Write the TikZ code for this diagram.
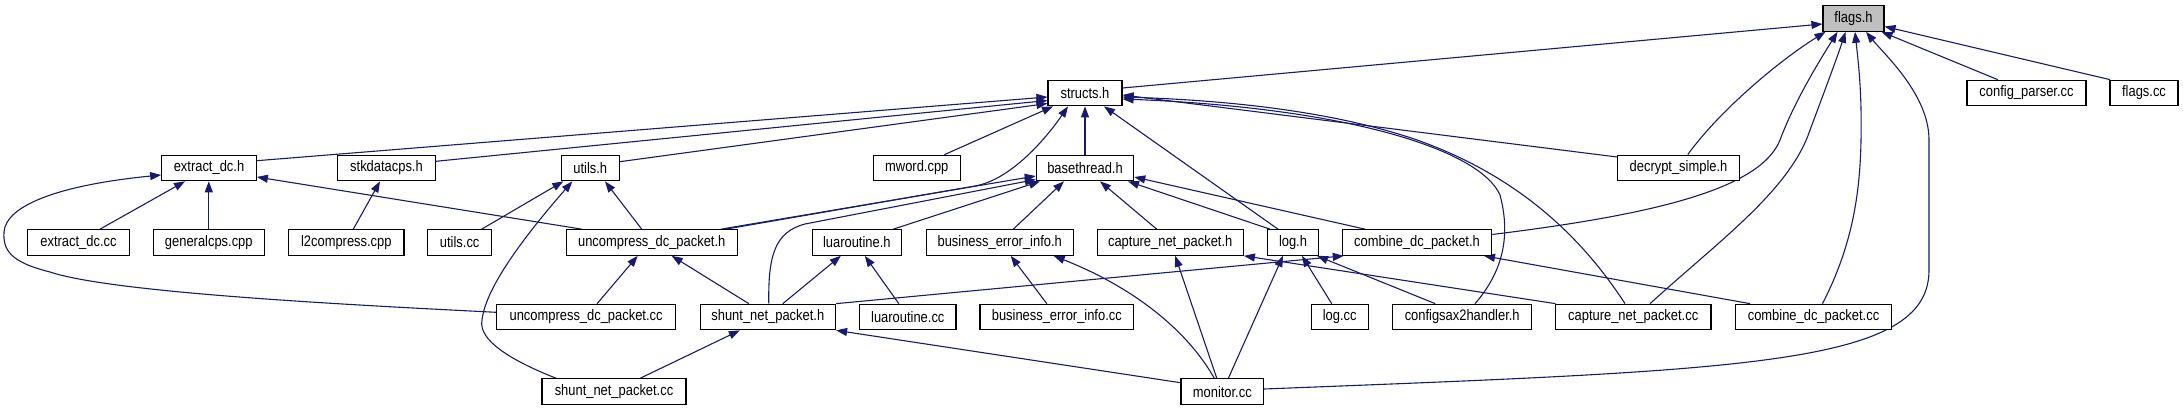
\documentclass[tikz,border=0pt]{standalone}
\usepackage{fontspec}
\setmainfont{Liberation Sans}
\newfontfamily\boxfont[FakeStretch=0.85]{Liberation Sans}
\usetikzlibrary{arrows.meta,calc}
\definecolor{edgeblue}{HTML}{191970}
\definecolor{nodegray}{HTML}{BFBFBF}
\pgfdeclarelayer{bg}
\pgfsetlayers{bg,main}
\begin{document}
\begin{tikzpicture}[x=1pt,y=-1pt,
  box/.style={draw=black,line width=1.1pt,fill=white,minimum height=25.6pt,inner sep=0pt,font=\boxfont\fontsize{15.2}{17}\selectfont},
  edge/.style={draw=edgeblue,line width=1.1pt,-{Triangle[length=11pt,width=8pt]}}]
\useasboundingbox (0,0) rectangle (2183,411);
% row 0
\node[box,fill=nodegray,minimum width=61pt] (flags) at (1853.5,18.5) {flags.h};
% row 1
\node[box,minimum width=74pt] (structs) at (1085,93) {structs.h};
\node[box,minimum width=119pt] (configparser) at (2026.5,93) {config\_parser.cc};
\node[box,minimum width=68pt] (flagscc) at (2144,93) {flags.cc};
% row 2
\node[box,minimum width=94.6pt] (extracth) at (209,168) {extract\_dc.h};
\node[box,minimum width=97.6pt] (stkdata) at (386.5,168) {stkdatacps.h};
\node[box,minimum width=58pt] (utilsh) at (590.3,168) {utils.h};
\node[box,minimum width=87pt] (mword) at (916.8,168) {mword.cpp};
\node[box,minimum width=97.4pt] (basethread) at (1085,168) {basethread.h};
\node[box,minimum width=121.6pt] (decrypt) at (1678.5,168) {decrypt\_simple.h};
% row 3
\node[box,minimum width=101.6pt] (extractcc) at (78.5,242.5) {extract\_dc.cc};
\node[box,minimum width=111pt] (generalcps) at (208.8,242.5) {generalcps.cpp};
\node[box,minimum width=115.3pt] (l2compress) at (346.3,242.5) {l2compress.cpp};
\node[box,minimum width=64pt] (utilscc) at (459.7,242.5) {utils.cc};
\node[box,minimum width=170.7pt] (uncomph) at (651.7,242.5) {uncompress\_dc\_packet.h};
\node[box,minimum width=89pt] (luah) at (856.8,242.5) {luaroutine.h};
\node[box,minimum width=146.7pt] (bizh) at (999.7,242.5) {business\_error\_info.h};
\node[box,minimum width=146.3pt] (caph) at (1170.2,242.5) {capture\_net\_packet.h};
\node[box,minimum width=50.6pt] (logh) at (1293,242.5) {log.h};
\node[box,minimum width=149.4pt] (combh) at (1417,242.5) {combine\_dc\_packet.h};
% row 4
\node[box,minimum width=178.8pt] (uncompcc) at (586.1,317) {uncompress\_dc\_packet.cc};
\node[box,minimum width=135.5pt] (shunth) at (767.8,317) {shunt\_net\_packet.h};
\node[box,minimum width=96.3pt] (luacc) at (907.8,317) {luaroutine.cc};
\node[box,minimum width=153.7pt] (bizcc) at (1056.8,317) {business\_error\_info.cc};
\node[box,minimum width=57.3pt] (logcc) at (1339.7,317) {log.cc};
\node[box,minimum width=139pt] (configsax) at (1462.2,317) {configsax2handler.h};
\node[box,minimum width=155.5pt] (capcc) at (1633.2,317) {capture\_net\_packet.cc};
\node[box,minimum width=156pt] (combcc) at (1813.5,317) {combine\_dc\_packet.cc};
% row 5
\node[box,minimum width=144pt] (shuntcc) at (614,391.7) {shunt\_net\_packet.cc};
\node[box,minimum width=82.7pt] (monitor) at (1222.3,391.7) {monitor.cc};

\begin{pgfonlayer}{bg}
% into flags.h
\draw[edge] ($(structs.east)+(0,-5)$) -- ($(flags.west)+(0,5.5)$);
\draw[edge] ($(configparser.north)+(-28.8,0)$) -- ($(flags.south east)+(-3,0)$);
\draw[edge] ($(flagscc.north)+(-34,0)$) -- ($(flags.east)+(0,8)$);
\draw[edge] ($(decrypt.north)+(9.2,0)$) .. controls (1720,110) and (1780,60) .. ($(flags.south)+(-28,0)$);
\draw[edge] ($(combh.east)+(0,-8)$) .. controls (1650,215) and (1760,190) .. (1780,140) .. controls (1795,100) and (1820,60) .. ($(flags.south)+(-16,0)$);
\draw[edge] ($(capcc.north)+(16.8,0)$) .. controls (1720,240) and (1790,190) .. (1810,130) .. controls (1825,90) and (1838,55) .. ($(flags.south)+(-8,0)$);
\draw[edge] ($(combcc.north)+(9,0)$) .. controls (1850,250) and (1860,200) .. (1861,140) .. controls (1862,90) and (1858,60) .. ($(flags.south)+(1.5,0)$);
\draw[edge] ($(monitor.east)+(0,-2.7)$) .. controls (1750,370) and (1929,365) .. (1929,270) -- (1929,140) .. controls (1929,95) and (1885,55) .. ($(flags.south)+(12.5,0)$);
% into structs.h
\draw[edge] ($(extracth.east)+(0,-7.3)$) -- ($(structs.west)+(0,4)$);
\draw[edge] ($(stkdata.east)+(0,-6.7)$) -- ($(structs.west)+(0,7.5)$);
\draw[edge] ($(utilsh.east)+(0,-6.3)$) -- ($(structs.west)+(0,10.5)$);
\draw[edge] ($(mword.north)+(27.6,0)$) -- ($(structs.south)+(-32,0)$);
\draw[edge] (basethread.north) -- (structs.south);
\draw[edge] ($(uncomph.north)+(74,0)$) -- (975,186) .. controls (1010,180) and (1045,140) .. ($(structs.south)+(-17,0)$);
\draw[edge] ($(logh.north)+(-15,0)$) -- ($(structs.south)+(19,0)$);
\draw[edge] ($(decrypt.west)+(0,-11)$) -- ($(structs.east)+(0,2)$);
\draw[edge] ($(configsax.north)+(12.8,0)$) .. controls (1500,275) and (1512,240) .. (1500,195) .. controls (1480,150) and (1350,108) .. ($(structs.east)+(0,6)$);
\draw[edge] ($(capcc.north)+(-8.2,0)$) .. controls (1590,250) and (1530,180) .. (1417,140) .. controls (1330,110) and (1220,100) .. ($(structs.east)+(0,4)$);
% into basethread.h
\draw[edge] ($(uncomph.north)+(69.3,0)$) -- ($(basethread.west)+(0,8)$);
\draw[edge] ($(shunth.north)+(1,0)$) .. controls (768,255) and (775,232) .. (805,224) -- ($(basethread.west)+(0,11.5)$);
\draw[edge] ($(luah.north)+(36.5,0)$) -- ($(basethread.south)+(-45,0)$);
\draw[edge] ($(bizh.north)+(13.6,0)$) -- ($(basethread.south)+(-21,0)$);
\draw[edge] ($(caph.north)+(-13.5,0)$) -- ($(basethread.south)+(15,0)$);
\draw[edge] ($(logh.north)+(-23,0)$) -- ($(basethread.south)+(43,0)$);
\draw[edge] ($(combh.north)+(-52,0)$) -- ($(basethread.east)+(0,9)$);
% into extract_dc.h
\draw[edge] ($(extractcc.north)+(21.5,0)$) -- ($(extracth.south)+(-24,0)$);
\draw[edge] (generalcps.north) -- (generalcps.north |- extracth.south);
\draw[edge] ($(uncompcc.west)+(0,-4.7)$) .. controls (330,304) and (110,292) .. (50,272) .. controls (10,262) and (3,250) .. (4,232) .. controls (6,205) and (60,185) .. ($(extracth.west)+(0,7)$);
\draw[edge] ($(uncomph.north)+(-70,0)$) -- ($(extracth.east)+(0,9)$);
% into stkdatacps.h
\draw[edge] ($(l2compress.north)+(7,0)$) -- ($(stkdata.south)+(-6.5,0)$);
% into utils.h
\draw[edge] ($(utilscc.north)+(22,0)$) -- ($(utilsh.south)+(-27,0)$);
\draw[edge] ($(shuntcc.north)+(-57.7,0)$) .. controls (510,360) and (478,340) .. (482,320) .. controls (486,285) and (530,230) .. ($(utilsh.south)+(-18,0)$);
\draw[edge] ($(uncomph.north)+(-10,0)$) -- ($(utilsh.south)+(14.7,0)$);
% into uncompress_dc_packet.h
\draw[edge] ($(uncompcc.north)+(11,0)$) -- ($(uncomph.south)+(-14,0)$);
\draw[edge] ($(shunth.north)+(-19,0)$) -- ($(uncomph.south)+(20,0)$);
% into luaroutine.h
\draw[edge] ($(shunth.north)+(15,0)$) -- ($(luah.south)+(-16,0)$);
\draw[edge] ($(luacc.north)+(-9,0)$) -- ($(luah.south)+(8,0)$);
% into business_error_info.h
\draw[edge] ($(bizcc.north)+(-10,0)$) -- ($(bizh.south)+(11,0)$);
\draw[edge] ($(monitor.north)+(-8,0)$) .. controls (1190,335) and (1140,290) .. ($(bizh.south)+(54,0)$);
% into capture_net_packet.h
\draw[edge] ($(monitor.north)+(-5.5,0)$) -- ($(caph.south)+(5,0)$);
\draw[edge] ($(capcc.north)+(-77.7,0)$) -- (caph.south east);
% into log.h
\draw[edge] ($(monitor.north)+(6,0)$) -- ($(logh.south)+(-10,0)$);
\draw[edge] ($(logcc.north)+(-8,0)$) -- ($(logh.south)+(9,0)$);
\draw[edge] ($(configsax.north)+(-27,0)$) -- ($(logh.south)+(24,0)$);
% into combine_dc_packet.h
\draw[edge] (shunth.north east) -- ($(combh.south west)+(2,0)$);
\draw[edge] ($(combcc.north)+(-63.5,0)$) -- ($(combh.south)+(67,0)$);
% into shunt_net_packet.h
\draw[edge] ($(shuntcc.north)+(26,0)$) -- ($(shunth.south)+(-28,0)$);
\draw[edge] ($(monitor.west)+(0,-9)$) -- (shunth.south east);
\end{pgfonlayer}
\end{tikzpicture}
\end{document}
